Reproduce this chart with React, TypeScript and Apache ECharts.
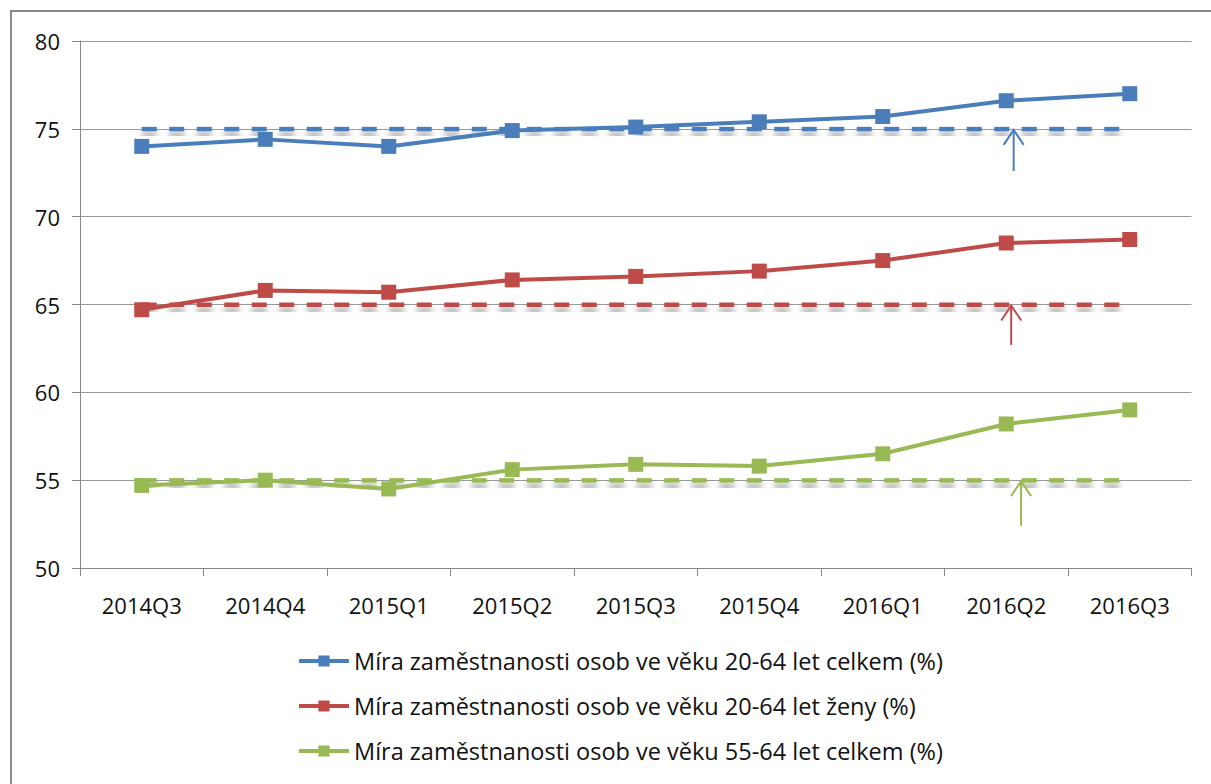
import React, { useEffect, useRef } from 'react';
import * as echarts from 'echarts';

const categories = ['2014Q3', '2014Q4', '2015Q1', '2015Q2', '2015Q3', '2015Q4', '2016Q1', '2016Q2', '2016Q3'];
const seriesNames = [
  'Míra zaměstnanosti osob ve věku 20-64 let celkem (%)',
  'Míra zaměstnanosti osob ve věku 20-64 let ženy (%)',
  'Míra zaměstnanosti osob ve věku 55-64 let celkem (%)',
];
const totalRate = [74.0, 74.4, 74.0, 74.9, 75.1, 75.4, 75.7, 76.6, 77.0];
const womenRate = [64.7, 65.8, 65.7, 66.4, 66.6, 66.9, 67.5, 68.5, 68.7];
const olderRate = [54.7, 55.0, 54.5, 55.6, 55.9, 55.8, 56.5, 58.2, 59.0];
const targets = [75, 65, 55];
const targetEnd = [8, 7.96, 8];
const arrowPos = [7.06, 7.04, 7.12];
const arrowFrom = [72.6, 62.7, 52.4];
const colors = ['#4a7ebb', '#be4b48', '#98b954'];

const FONT = '"Open Sans", Lato, sans-serif';

export default function App() {
  const ref = useRef<HTMLDivElement>(null);
  useEffect(() => {
    if (!ref.current) return;
    const chart = echarts.init(ref.current, null, { renderer: 'svg' });
    const values = [totalRate, womenRate, olderRate];
    const mainSeries = values.map((d, i) => ({
      name: seriesNames[i],
      type: 'line',
      data: d,
      symbol: 'rect',
      symbolSize: 15,
      z: 5,
      itemStyle: { color: colors[i] },
      lineStyle: { color: colors[i], width: 4 },
    }));
    const targetSeries = {
      name: 'targets',
      type: 'custom',
      z: 3,
      silent: true,
      data: targets.map((t, i) => [0, targetEnd[i], t, i]),
      renderItem: (params: any, api: any) => {
        const s = api.coord([api.value(0), api.value(2)]);
        const e = api.coord([api.value(1), api.value(2)]);
        const idx = api.value(3);
        const children: any[] = [];
        const dash = 15;
        const period = 27.5;
        for (let x = s[0]; x < e[0]; x += period) {
          const w = Math.min(dash, e[0] - x);
          children.push({
            type: 'rect',
            shape: { x, y: s[1] - 2, width: w, height: 4.5 },
            style: {
              fill: colors[idx],
              shadowColor: 'rgba(0,0,0,0.45)',
              shadowBlur: 6,
              shadowOffsetY: 6,
            },
          });
        }
        return { type: 'group', children };
      },
    };
    chart.setOption({
      animation: false,
      textStyle: { fontFamily: FONT },
      grid: { left: 80, right: 19.5, top: 41, bottom: 216, containLabel: false },
      legend: {
        data: seriesNames,
        orient: 'vertical',
        left: 292,
        top: 644,
        itemGap: 21,
        itemWidth: 50,
        itemHeight: 14,
        lineStyle: { width: 4 },
        textStyle: { fontSize: 23.5, color: '#111', fontFamily: FONT },
        selectedMode: false,
      },
      xAxis: {
        type: 'category',
        data: categories,
        boundaryGap: true,
        axisLine: { lineStyle: { color: '#888', width: 1 } },
        axisTick: { show: true, length: 8, lineStyle: { color: '#888' } },
        axisLabel: { fontSize: 22, color: '#111', margin: 26, fontFamily: FONT },
      },
      yAxis: {
        type: 'value',
        min: 50,
        max: 80,
        interval: 5,
        axisLine: { show: true, lineStyle: { color: '#888', width: 1 } },
        axisTick: { show: true, length: 8, lineStyle: { color: '#888' } },
        axisLabel: { fontSize: 22, color: '#111', margin: 20, fontFamily: FONT },
        splitLine: { lineStyle: { color: '#999', width: 1 } },
      },
      series: [targetSeries, ...mainSeries],
    });

    const graphics: any[] = [
      {
        type: 'rect',
        shape: { x: 11, y: 11, width: 1400, height: 1000 },
        style: { fill: 'none', stroke: '#8a8a8a', lineWidth: 2 },
        silent: true,
      },
    ];
    arrowPos.forEach((p, i) => {
      const lo = Math.floor(p);
      const frac = p - lo;
      const a = chart.convertToPixel({ gridIndex: 0 }, [lo, targets[i]]) as number[];
      const b = chart.convertToPixel({ gridIndex: 0 }, [lo + 1, targets[i]]) as number[];
      const x = a[0] + (b[0] - a[0]) * frac;
      const yTop = a[1];
      const yBot = (chart.convertToPixel({ gridIndex: 0 }, [lo, arrowFrom[i]]) as number[])[1];
      graphics.push({
        type: 'line',
        shape: { x1: x, y1: yBot, x2: x, y2: yTop + 1 },
        style: { stroke: colors[i], lineWidth: 2 },
        z: 10,
      });
      graphics.push({
        type: 'polyline',
        shape: { points: [[x - 10, yTop + 16], [x, yTop + 1], [x + 10, yTop + 16]] },
        style: { stroke: colors[i], lineWidth: 2, fill: 'none' },
        z: 10,
      });
    });
    chart.setOption({ graphic: graphics });
    return () => chart.dispose();
  }, []);
  return (
    <div
      ref={ref}
      style={{ position: 'fixed', left: 0, top: 0, width: 1211, height: 784, background: '#fff' }}
    />
  );
}
